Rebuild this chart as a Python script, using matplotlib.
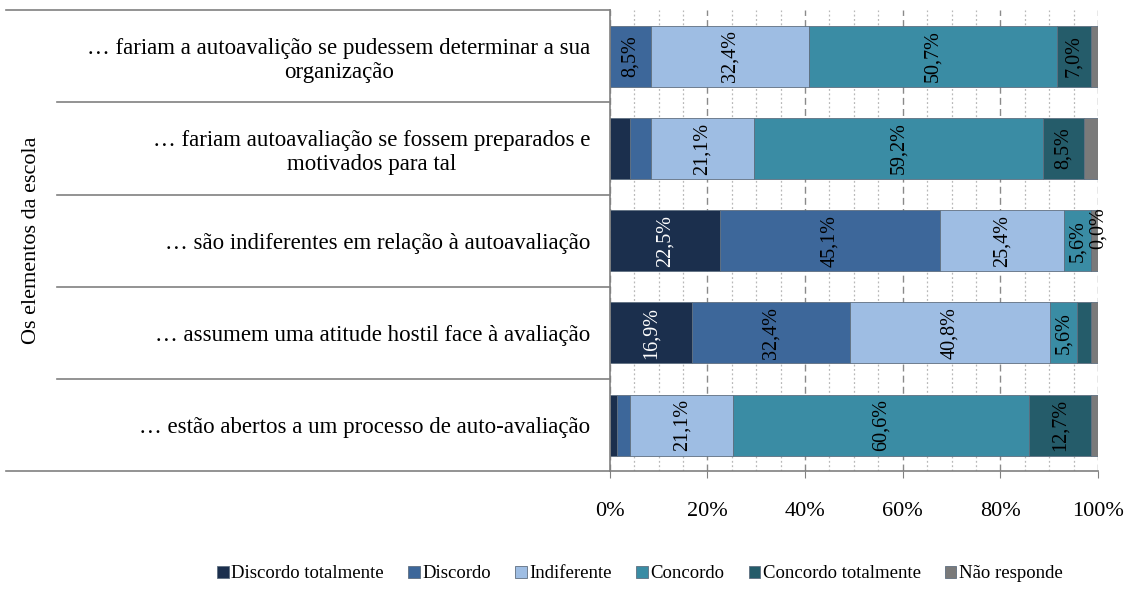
import matplotlib.pyplot as plt
from matplotlib.ticker import MultipleLocator, PercentFormatter
from matplotlib.transforms import blended_transform_factory

plt.rcParams['font.family'] = ['Liberation Serif', 'DejaVu Serif']

# Categories (top to bottom) and series, values in %
categories = [
    '… fariam a autoavalição se pudessem determinar a sua\norganização',
    '… fariam autoavaliação se fossem preparados e\nmotivados para tal',
    '… são indiferentes em relação à autoavaliação',
    '… assumem uma atitude hostil face à avaliação',
    '… estão abertos a um processo de auto-avaliação',
]
series = ['Discordo totalmente', 'Discordo', 'Indiferente', 'Concordo',
          'Concordo totalmente', 'Não responde']
discordo_totalmente = [0.0, 4.2, 22.5, 16.9, 1.4]
discordo = [8.5, 4.2, 45.1, 32.4, 2.8]
indiferente = [32.4, 21.1, 25.4, 40.8, 21.1]
concordo = [50.7, 59.2, 5.6, 5.6, 60.6]
concordo_totalmente = [7.0, 8.5, 0.0, 2.8, 12.7]
nao_responde = [1.4, 2.8, 1.4, 1.4, 1.4]

values = [discordo_totalmente, discordo, indiferente, concordo,
          concordo_totalmente, nao_responde]
colors = ['#1B2F4D', '#3D679A', '#9EBDE3', '#3A8CA4', '#255C6A', '#7A7A7A']
text_colors = ['white', 'black', 'black', 'black', 'black', 'black']


def main():
    fig = plt.figure(figsize=(11.25, 6.01), dpi=100)
    ax = fig.add_axes([0.542, 0.216, 0.434, 0.767])

    y = list(range(len(categories)))
    left = [0.0] * len(categories)
    for s in range(len(series)):
        ax.barh(y, values[s], left=left, height=0.66, color=colors[s],
                edgecolor='#5f6f80', linewidth=0.6, label=series[s], zorder=2)
        for i in range(len(categories)):
            v = values[s][i]
            txt = f'{v:.1f}%'.replace('.', ',')
            if v >= 5:
                ax.text(left[i] + v / 2, y[i], txt, rotation=90, ha='center',
                        va='center', fontsize=14.5, color=text_colors[s], zorder=3)
            elif v == 0 and left[i] > 0:
                # zero-width segment: label squeezed at the end of the bar
                ax.annotate(txt, (left[i] + v / 2, y[i]), xytext=(5, 9),
                            textcoords='offset points', rotation=90, ha='center',
                            va='center', fontsize=14.5, color=text_colors[s], zorder=3)
            left[i] += v

    ax.set_xlim(0, 100)
    ax.set_ylim(len(categories) - 0.5, -0.5)
    ax.xaxis.set_major_locator(MultipleLocator(20))
    ax.xaxis.set_minor_locator(MultipleLocator(5))
    ax.xaxis.set_major_formatter(PercentFormatter(decimals=0))
    ax.grid(axis='x', which='major', color='#8a8a8a', linestyle=(0, (5, 3)), linewidth=1)
    ax.grid(axis='x', which='minor', color='#b8b8b8', linestyle=(0, (1.5, 2)), linewidth=0.9)
    ax.set_axisbelow(True)
    ax.tick_params(axis='x', which='major', length=5, color='#808080', labelsize=16, pad=17)
    ax.tick_params(axis='x', which='minor', length=0)

    ax.set_yticks(y)
    ax.set_yticklabels(categories, ma='center', fontsize=16.5)
    ax.tick_params(axis='y', length=0, pad=14)

    for side in ['top', 'right']:
        ax.spines[side].set_visible(False)
    for side in ['left', 'bottom']:
        ax.spines[side].set_color('#808080')
        ax.spines[side].set_linewidth(1.2)

    # multi-level category separators
    trans = blended_transform_factory(ax.transAxes, ax.transData)
    n = len(categories)
    for k in range(n + 1):
        yb = k - 0.5
        x0 = -1.236 if k in (0, n) else -1.133
        ax.plot([x0, 0], [yb, yb], color='#808080', linewidth=1.2,
                transform=trans, clip_on=False)
    ax.text(-1.185, 0.5, 'Os elementos da escola', rotation=90, ha='center',
            va='center', fontsize=16, transform=ax.transAxes)

    fig.legend(loc='center', bbox_to_anchor=(0.569, 0.045), ncol=6, frameon=False,
               fontsize=13.5, handlelength=0.6, handleheight=0.6,
               handletextpad=0.15, columnspacing=1.3)

    fig.savefig('out.png', dpi=100)


if __name__ == '__main__':
    main()
